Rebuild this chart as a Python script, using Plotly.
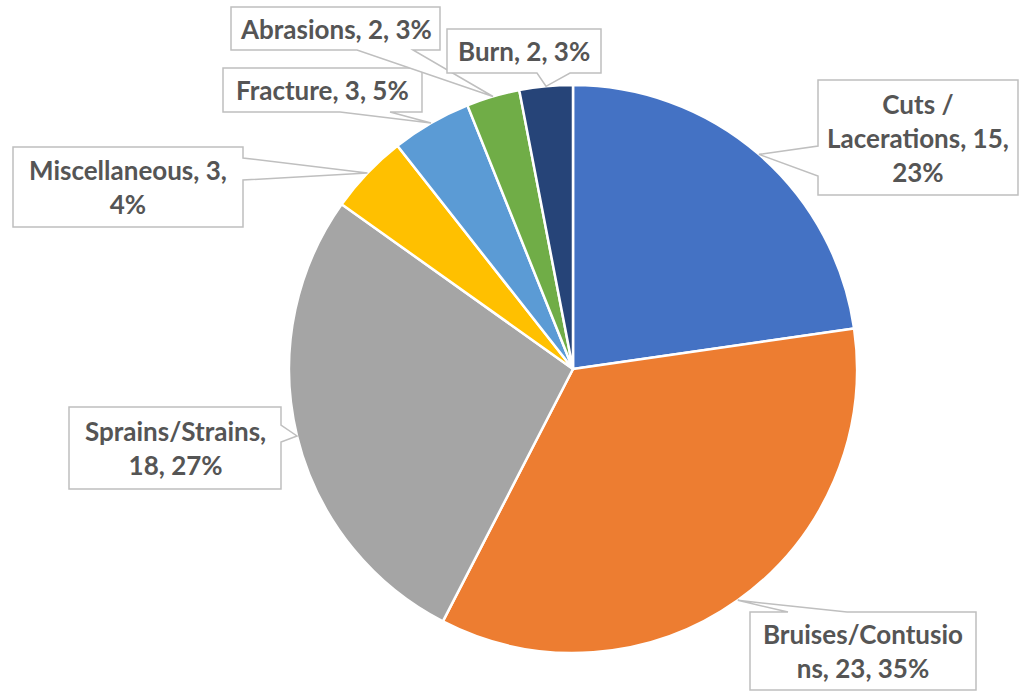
import math
import plotly.graph_objects as go

categories = ["Cuts / Lacerations", "Bruises/Contusions", "Sprains/Strains",
              "Miscellaneous", "Fracture", "Abrasions", "Burn"]
values = [15, 23, 18, 3, 3, 2, 2]
percents = ["23%", "35%", "27%", "4%", "5%", "3%", "3%"]
label_texts = ["Cuts /<br>Lacerations, 15,<br>23%",
               "Bruises/Contusio<br>ns, 23, 35%",
               "Sprains/Strains,<br>18, 27%",
               "Miscellaneous, 3,<br>4%",
               "Fracture, 3, 5%",
               "Abrasions, 2, 3%",
               "Burn, 2, 3%"]
colors = ["#4472C4", "#ED7D31", "#A5A5A5", "#FFC000", "#5B9BD5", "#70AD47", "#264478"]

W, H = 1023, 692
CX, CY, R = 573, 369, 284

# callout boxes (pixels): x0, y0, x1, y1, side, base a, base b
boxes = [
    (818, 80, 1018, 195, "left", 146, 176),
    (750, 612, 976, 690, "top", 788, 847),
    (69, 407, 281, 489, "right", 425, 442),
    (13, 147, 243, 227, "right", 158, 180),
    (223, 68, 422, 112, "bottom", 340, 390),
    (231, 7, 440, 50, "bottom", 357, 413),
    (447, 29, 601, 73, "bottom", 537, 570),
]

def px(x):
    return x / W

def py(y):
    return 1 - y / H

fig = go.Figure(go.Pie(
    labels=categories, values=values, sort=False, direction="clockwise",
    rotation=0, textinfo="none", hoverinfo="label+value+percent",
    marker=dict(colors=colors, line=dict(color="white", width=2.5)),
    domain=dict(x=[px(CX - R), px(CX + R)], y=[py(CY + R), py(CY - R)]),
    showlegend=False,
))

total = sum(values)
cum = 0
shapes = []
annotations = []
for i, v in enumerate(values):
    mid = (cum + v / 2) / total * 2 * math.pi
    cum += v
    tx = CX + R * math.sin(mid)
    ty = CY - R * math.cos(mid)
    x0, y0, x1, y1, side, a, b = boxes[i]
    if side == "left":
        pts = [(x0, y0), (x1, y0), (x1, y1), (x0, y1), (x0, b), (tx, ty), (x0, a)]
    elif side == "right":
        pts = [(x0, y0), (x1, y0), (x1, a), (tx, ty), (x1, b), (x1, y1), (x0, y1)]
    elif side == "top":
        pts = [(x0, y0), (a, y0), (tx, ty), (b, y0), (x1, y0), (x1, y1), (x0, y1)]
    else:
        pts = [(x0, y0), (x1, y0), (x1, y1), (b, y1), (tx, ty), (a, y1), (x0, y1)]
    path = "M " + " L ".join(f"{px(p[0]):.5f},{py(p[1]):.5f}" for p in pts) + " Z"
    shapes.append(dict(type="path", xref="paper", yref="paper", path=path,
                       fillcolor="white", line=dict(color="#BFBFBF", width=1.5),
                       layer="above"))
    annotations.append(dict(x=px((x0 + x1) / 2), y=py((y0 + y1) / 2),
                            xref="paper", yref="paper", text=label_texts[i],
                            showarrow=False, xanchor="center", yanchor="middle",
                            font=dict(family="Lato", size=26, color="#555555",
                                      weight="bold")))

fig.update_layout(
    width=W, height=H, margin=dict(l=0, r=0, t=0, b=0),
    paper_bgcolor="white", plot_bgcolor="white",
    shapes=shapes, annotations=annotations,
)
fig.write_html("out.html", config={"displayModeBar": False},
               post_script="document.body.style.margin='0';")
